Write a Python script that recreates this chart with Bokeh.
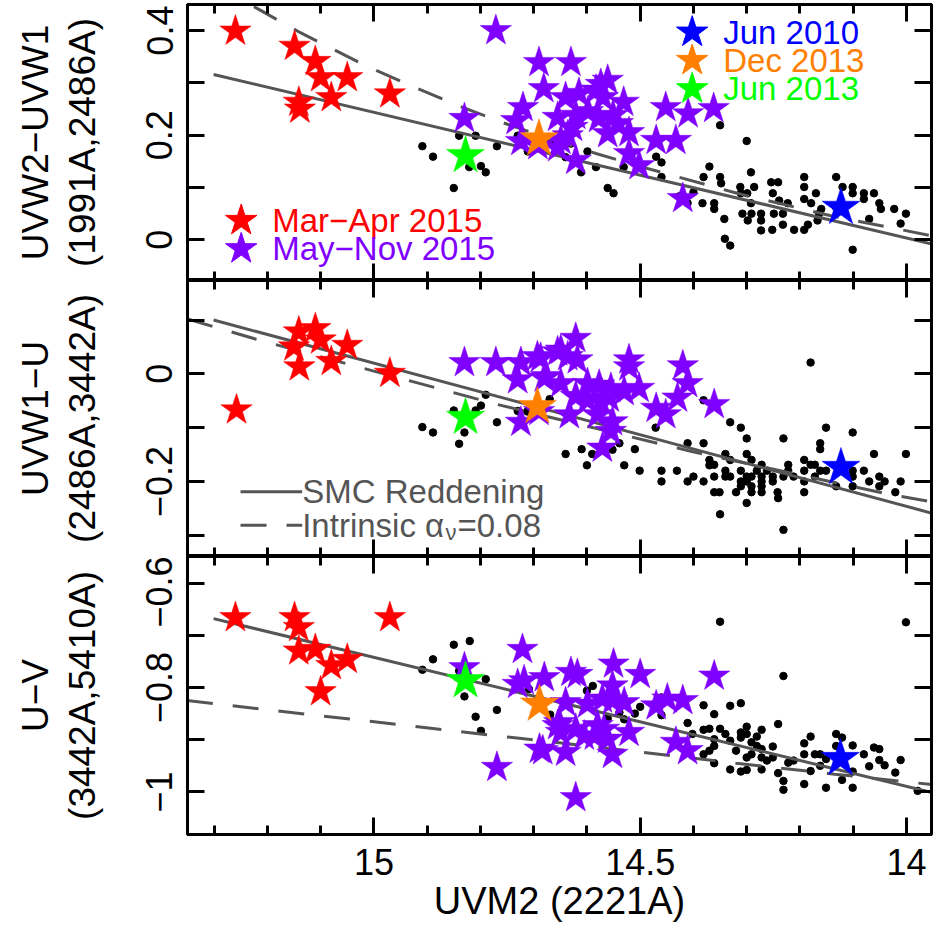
import math
from bokeh.plotting import figure
from bokeh.layouts import column
from bokeh.models import Range1d, LinearAxis, FixedTicker, Label, CustomLabelingPolicy
from bokeh.embed import file_html
from bokeh.resources import INLINE

FONT = "Liberation Sans"

# ---------------- data ----------------
x_major = [15.0, 14.5, 14.0]
x_minor = [15.3, 15.2, 15.1, 14.9, 14.8, 14.7, 14.6, 14.4, 14.3, 14.2, 14.1]
x_labels = {15.0: "15", 14.5: "14.5", 14.0: "14"}

p1_ticks = [0.0, 0.2, 0.4]
p1_minor = [0.1, 0.3]
p1_labels = {0.0: "0", 0.2: "0.2", 0.4: "0.4"}
p2_ticks = [0.0, -0.2]
p2_minor = [0.1, -0.1, -0.3]
p2_labels = {0.0: "0", -0.2: "\u22120.2"}
p3_ticks = [-0.6, -0.8, -1.0]
p3_minor = [-0.7, -0.9]
p3_labels = {-0.6: "\u22120.6", -0.8: "\u22120.8", -1.0: "\u22121"}

# panel 1: UVW2-UVW1
p1_red = [(15.260, 0.399), (15.149, 0.370), (15.110, 0.341), (15.100, 0.310), (15.050, 0.310),
          (15.080, 0.272), (15.141, 0.263), (15.139, 0.250), (14.970, 0.279)]
p1_purple = [(14.771, 0.400), (14.830, 0.232), (14.690, 0.339), (14.681, 0.289), (14.720, 0.253),
             (14.733, 0.228), (14.724, 0.188), (14.692, 0.180), (14.655, 0.234), (14.655, 0.176),
             (14.630, 0.339), (14.561, 0.305), (14.574, 0.297), (14.640, 0.272), (14.615, 0.280),
             (14.583, 0.286), (14.570, 0.272), (14.531, 0.263), (14.621, 0.238), (14.598, 0.245),
             (14.578, 0.232), (14.551, 0.238), (14.561, 0.203), (14.542, 0.222), (14.521, 0.205),
             (14.649, 0.190), (14.636, 0.199), (14.621, 0.152), (14.521, 0.165), (14.502, 0.142),
             (14.470, 0.190), (14.433, 0.190), (14.452, 0.253), (14.410, 0.241), (14.362, 0.251),
             (14.420, 0.079), (14.627, 0.215)]
p1_jun2010 = (14.123, 0.062)
p1_dec2013 = (14.690, 0.193)
p1_jun2013 = (14.828, 0.161)
p1_dots = [(14.909, 0.179), (14.889, 0.159), (14.850, 0.099), (14.840, 0.199), (14.821, 0.139),
           (14.809, 0.199), (14.799, 0.141), (14.790, 0.129), (14.769, 0.179), (14.730, 0.199),
           (14.711, 0.169), (14.668, 0.190), (14.640, 0.158), (14.630, 0.184), (14.611, 0.129),
           (14.599, 0.169), (14.583, 0.139), (14.561, 0.099), (14.550, 0.089), (14.531, 0.139),
           (14.470, 0.159), (14.460, 0.148), (14.460, 0.120), (14.427, 0.083), (14.411, 0.070),
           (14.400, 0.091), (14.381, 0.120), (14.370, 0.140), (14.383, 0.070), (14.361, 0.070),
           (14.350, 0.219), (14.350, 0.120), (14.348, 0.108), (14.361, 0.059), (14.342, 0.040),
           (14.341, 0.002), (14.331, -0.011), (14.312, 0.101), (14.311, 0.089), (14.300, 0.189),
           (14.292, 0.129), (14.299, 0.089), (14.308, 0.050), (14.292, 0.070), (14.286, 0.101),
           (14.298, 0.037), (14.291, 0.050), (14.273, 0.050), (14.273, 0.037), (14.273, 0.018),
           (14.254, 0.110), (14.241, 0.110), (14.251, 0.089), (14.239, 0.075), (14.223, 0.070),
           (14.232, 0.050), (14.249, 0.050), (14.252, 0.019), (14.232, 0.029), (14.211, 0.019),
           (14.192, 0.120), (14.192, 0.101), (14.192, 0.078), (14.179, 0.070), (14.170, 0.089),
           (14.185, 0.029), (14.192, 0.019), (14.160, 0.059), (14.164, 0.050), (14.167, 0.037),
           (14.132, 0.120), (14.132, 0.062), (14.120, 0.101), (14.101, 0.101), (14.101, 0.089),
           (14.080, 0.089), (14.080, 0.078), (14.061, 0.089), (14.051, 0.070), (14.048, 0.059),
           (14.023, 0.059), (14.001, 0.050), (14.011, 0.031), (14.070, 0.040), (14.101, -0.019)]
p1_smc_x = [15.301, 13.952]
p1_smc_y = [0.316, -0.008]
p1_int_x = [15.300, 15.222, 15.138, 15.016, 14.931, 14.843, 14.758, 14.674, 14.583, 14.499, 14.318, 14.142, 13.954]
p1_int_y = [0.490, 0.444, 0.396, 0.333, 0.295, 0.257, 0.224, 0.195, 0.165, 0.140, 0.089, 0.046, 0.008]

# panel 2: UVW1-U
p2_red = [(15.258, -0.067), (15.141, 0.078), (15.110, 0.084), (15.100, 0.063), (15.150, 0.050),
          (15.140, 0.013), (15.080, 0.023), (15.050, 0.053), (14.970, 0.001)]
p2_purple = [(14.830, 0.021), (14.771, 0.021), (14.724, 0.021), (14.693, 0.032), (14.730, -0.011),
             (14.680, -0.008), (14.655, 0.041), (14.724, -0.090), (14.690, -0.070),
             (14.621, 0.066), (14.649, 0.044), (14.636, 0.032), (14.618, 0.026), (14.687, 0.029),
             (14.677, -0.005), (14.649, -0.018), (14.521, 0.026), (14.521, 0.013), (14.420, 0.015),
             (14.411, -0.018), (14.502, -0.027), (14.430, -0.045), (14.470, -0.064), (14.452, -0.076),
             (14.361, -0.057), (14.599, -0.018), (14.577, -0.021), (14.555, -0.027), (14.530, -0.033),
             (14.621, -0.042), (14.599, -0.049), (14.574, -0.052), (14.558, -0.045), (14.633, -0.076),
             (14.580, -0.076), (14.552, -0.089), (14.555, -0.107), (14.571, -0.138)]
p2_jun2010 = (14.123, -0.174)
p2_dec2013 = (14.693, -0.061)
p2_jun2013 = (14.828, -0.081)
p2_dots = [(14.909, -0.099), (14.889, -0.109), (14.850, -0.068), (14.840, -0.130), (14.830, -0.109),
           (14.809, -0.068), (14.799, -0.059), (14.790, -0.039), (14.769, -0.090), (14.730, -0.069),
           (14.712, -0.070), (14.670, -0.047), (14.640, -0.149), (14.610, -0.140), (14.600, -0.170),
           (14.590, -0.149), (14.552, -0.141), (14.539, -0.129), (14.530, -0.170), (14.510, -0.140),
           (14.501, -0.180), (14.471, -0.100), (14.460, -0.180), (14.460, -0.200), (14.431, -0.180),
           (14.411, -0.129), (14.411, -0.200), (14.400, -0.191), (14.381, -0.049), (14.381, -0.129),
           (14.381, -0.200), (14.370, -0.160), (14.370, -0.170), (14.361, -0.169), (14.361, -0.191),
           (14.361, -0.220), (14.351, -0.220), (14.350, -0.261), (14.340, -0.149), (14.340, -0.180),
           (14.340, -0.191), (14.331, -0.090), (14.331, -0.160), (14.331, -0.191), (14.320, -0.220),
           (14.311, -0.100), (14.311, -0.180), (14.311, -0.200), (14.311, -0.209), (14.300, -0.120),
           (14.300, -0.149), (14.300, -0.191), (14.300, -0.200), (14.300, -0.240), (14.291, -0.160),
           (14.291, -0.191), (14.291, -0.209), (14.291, -0.220), (14.281, -0.180), (14.272, -0.169),
           (14.272, -0.191), (14.272, -0.200), (14.272, -0.209), (14.272, -0.220), (14.262, -0.180),
           (14.251, -0.191), (14.251, -0.200), (14.242, -0.220), (14.241, -0.231), (14.231, -0.120),
           (14.231, -0.191), (14.231, -0.290), (14.222, -0.169), (14.222, -0.180), (14.212, -0.191),
           (14.192, -0.160), (14.192, -0.180), (14.192, -0.200), (14.192, -0.220), (14.180, 0.021),
           (14.180, -0.169), (14.172, -0.169), (14.172, -0.191), (14.162, -0.129), (14.162, -0.140),
           (14.162, -0.180), (14.151, -0.100), (14.151, -0.180), (14.132, -0.209), (14.101, -0.109),
           (14.101, -0.180), (14.101, -0.191), (14.101, -0.209), (14.080, -0.180), (14.070, -0.200),
           (14.061, -0.149), (14.051, -0.191), (14.051, -0.209), (14.041, -0.200), (14.021, -0.220),
           (14.011, -0.200), (14.001, -0.149)]
p2_smc_x = [15.301, 13.952]
p2_smc_y = [0.100, -0.259]
p2_int_x = [15.350, 15.213, 14.768, 14.405, 14.042, 13.952]
p2_int_y = [0.102, 0.062, -0.057, -0.144, -0.222, -0.238]

# panel 3: U-V
p3_red = [(15.260, -0.666), (15.149, -0.666), (15.141, -0.685), (14.970, -0.666), (15.141, -0.730),
          (15.110, -0.727), (15.080, -0.758), (15.050, -0.746), (15.100, -0.808)]
p3_purple = [(14.830, -0.762), (14.721, -0.727), (14.730, -0.794), (14.718, -0.787), (14.680, -0.781),
             (14.689, -0.918), (14.769, -0.953), (14.655, -0.873),
             (14.630, -0.771), (14.618, -0.775), (14.550, -0.755), (14.500, -0.775), (14.361, -0.778),
             (14.552, -0.797), (14.640, -0.829), (14.599, -0.832), (14.571, -0.822), (14.552, -0.825),
             (14.530, -0.829), (14.470, -0.835), (14.449, -0.822), (14.420, -0.825), (14.652, -0.867),
             (14.649, -0.886), (14.621, -0.880), (14.605, -0.893), (14.580, -0.873), (14.586, -0.893),
             (14.561, -0.899), (14.521, -0.886), (14.683, -0.921), (14.640, -0.924), (14.552, -0.928),
             (14.433, -0.905), (14.411, -0.921), (14.621, -1.011), (14.568, -0.880)]
p3_jun2010 = (14.124, -0.936)
p3_dec2013 = (14.689, -0.832)
p3_jun2013 = (14.828, -0.787)
p3_dots = [(14.909, -0.766), (14.889, -0.746), (14.850, -0.718), (14.820, -0.711), (14.840, -0.768),
           (14.830, -0.817), (14.809, -0.856), (14.799, -0.883), (14.790, -0.784), (14.769, -0.843),
           (14.709, -0.803), (14.669, -0.852), (14.600, -0.806), (14.589, -0.797), (14.561, -0.859),
           (14.539, -0.848), (14.530, -0.861), (14.510, -0.850), (14.500, -0.837), (14.460, -0.819),
           (14.460, -0.853), (14.411, -0.868), (14.402, -0.889), (14.381, -0.834), (14.381, -0.881),
           (14.381, -0.928), (14.370, -0.879), (14.370, -0.921), (14.361, -0.851), (14.361, -0.899),
           (14.361, -0.912), (14.361, -0.945), (14.350, -0.674), (14.350, -0.879), (14.340, -0.889),
           (14.331, -0.835), (14.331, -0.902), (14.331, -0.957), (14.320, -0.921), (14.311, -0.830),
           (14.311, -0.886), (14.311, -0.896), (14.311, -0.961), (14.300, -0.875), (14.300, -0.889),
           (14.300, -0.934), (14.300, -0.958), (14.291, -0.905), (14.291, -0.928), (14.281, -0.894),
           (14.281, -0.912), (14.272, -0.881), (14.272, -0.918), (14.272, -0.934), (14.272, -0.957),
           (14.262, -0.940), (14.251, -0.913), (14.251, -0.934), (14.241, -0.870), (14.241, -0.964),
           (14.231, -0.778), (14.231, -0.979), (14.231, -0.996), (14.222, -0.944), (14.212, -0.940),
           (14.192, -0.907), (14.192, -0.928), (14.192, -0.985), (14.180, -0.894), (14.180, -0.960),
           (14.172, -0.928), (14.162, -0.928), (14.162, -0.950), (14.151, -0.937), (14.151, -0.992),
           (14.132, -0.889), (14.132, -0.912), (14.121, -0.896), (14.121, -0.977), (14.101, -0.911),
           (14.101, -0.961), (14.101, -0.992), (14.080, -0.928), (14.070, -0.951), (14.061, -0.915),
           (14.051, -0.918), (14.051, -0.939), (14.041, -0.949), (14.021, -0.963), (14.011, -0.939),
           (14.001, -0.675), (13.979, -0.998)]
p3_smc_x = [15.301, 13.952]
p3_smc_y = [-0.668, -1.001]
p3_int_x = [15.351, 14.687, 14.505, 14.320, 14.135, 13.952]
p3_int_y = [-0.825, -0.902, -0.923, -0.945, -0.966, -0.986]

# ---------------- style ----------------
RED, PURPLE, ORANGE, GREEN, BLUE = "#FF0000", "#7F00FF", "#FF7F00", "#00FF00", "#0000FF"
LINE_GRAY = "#555555"
X0, X1 = 15.350, 13.953
W = 933
LEFT, RIGHT = 187, 2
FW = W - LEFT - RIGHT
STAR = 33
BIGSTAR = 40
DOT = 7.5


def xs(pts):
    return [p[0] for p in pts]


def ys(pts):
    return [p[1] for p in pts]


def hide_labels(ax):
    ax.major_label_text_font_size = "0px"
    ax.major_label_standoff = 0
    ax.major_label_policy = CustomLabelingPolicy(code="return []")


def style_axis(ax, tin_major, tin_minor, show_labels):
    ax.axis_line_width = 3
    ax.axis_line_color = "black"
    ax.major_tick_in = tin_major
    ax.major_tick_out = 0
    ax.minor_tick_in = tin_minor
    ax.minor_tick_out = 0
    ax.major_tick_line_width = 3
    ax.minor_tick_line_width = 3
    ax.major_tick_line_color = "black"
    ax.minor_tick_line_color = "black"
    ax.major_label_text_font = FONT
    ax.major_label_text_color = "black"
    if show_labels:
        ax.major_label_text_font_size = "36px"
    else:
        hide_labels(ax)


def title_axis(ticker, text, standoff):
    ax = LinearAxis(ticker=ticker)
    ax.axis_line_color = None
    ax.major_tick_line_color = None
    ax.minor_tick_line_color = None
    ax.major_tick_in = 0
    ax.major_tick_out = 0
    ax.minor_tick_in = 0
    ax.minor_tick_out = 0
    hide_labels(ax)
    ax.axis_label = text
    ax.axis_label_text_font = FONT
    ax.axis_label_text_font_size = "37px"
    ax.axis_label_text_font_style = "normal"
    ax.axis_label_text_color = "black"
    ax.axis_label_standoff = standoff
    return ax


def make_panel(yr, height, top, bottom, yticks, yminor, ylabels, title_lines, xlabels):
    fh = height - top - bottom
    p = figure(width=W, height=height, x_range=Range1d(X0, X1), y_range=Range1d(*yr),
               output_backend="svg", toolbar_location=None,
               x_axis_location=None, y_axis_location=None,
               min_border_left=LEFT, min_border_right=RIGHT,
               min_border_top=top, min_border_bottom=bottom)
    p.grid.visible = False
    p.outline_line_color = "black"
    p.outline_line_width = 3
    p.background_fill_color = "white"
    p.border_fill_color = "white"

    yt = FixedTicker(ticks=yticks, minor_ticks=yminor)
    xt = FixedTicker(ticks=x_major, minor_ticks=x_minor)

    # left axis with ticks and tick labels only
    left = LinearAxis(ticker=yt)
    style_axis(left, 17, 17, True)
    left.major_label_overrides = ylabels
    left.major_label_orientation = "parallel"
    left.major_label_standoff = 15
    p.add_layout(left, "left")
    # two title lines as separate, tick-less axes further out
    p.add_layout(title_axis(yt, title_lines[1], 41), "left")
    p.add_layout(title_axis(yt, title_lines[0], 3), "left")

    right = LinearAxis(ticker=yt)
    style_axis(right, 17, 17, False)
    p.add_layout(right, "right")

    above = LinearAxis(ticker=xt)
    style_axis(above, 17, 9, False)
    p.add_layout(above, "above")

    below = LinearAxis(ticker=xt)
    style_axis(below, 17, 9, xlabels)
    if xlabels:
        below.major_label_overrides = x_labels
        below.major_label_standoff = 14
        below.axis_label = "UVM2 (2221A)"
        below.axis_label_text_font = FONT
        below.axis_label_text_font_size = "38px"
        below.axis_label_text_font_style = "normal"
        below.axis_label_text_color = "black"
        below.axis_label_standoff = 2
    p.add_layout(below, "below")
    return p, fh


def fx(sx):
    return X0 + sx / FW * (X1 - X0)


def fy(p, fh, sy):
    return p.y_range.start + sy / fh * (p.y_range.end - p.y_range.start)


def draw(p, dots, smc_x, smc_y, int_x, int_y, red, purple, j10, d13, j13):
    p.scatter(xs(dots), ys(dots), marker="circle", size=DOT, fill_color="black", line_color="black")
    p.line(smc_x, smc_y, line_color=LINE_GRAY, line_width=3)
    p.line(int_x, int_y, line_color=LINE_GRAY, line_width=3, line_dash="26 20")
    p.scatter(xs(red), ys(red), marker="star", size=STAR, fill_color=RED, line_color=RED, line_width=0.5)
    p.scatter(xs(purple), ys(purple), marker="star", size=STAR, fill_color=PURPLE, line_color=PURPLE, line_width=0.5)
    for pt, c in [(j10, BLUE), (d13, ORANGE), (j13, GREEN)]:
        p.scatter([pt[0]], [pt[1]], marker="star", size=BIGSTAR, fill_color=c, line_color=c, line_width=0.5)


def legend_text(p, sx, sy, txt, color, size="33px"):
    p.add_layout(Label(x=sx, y=sy, x_units="screen", y_units="screen", text=txt,
                       text_align="left", text_baseline="middle",
                       text_font=FONT, text_font_size=size, text_color=color))


# ---------------- panel 1 ----------------
p1, fh1 = make_panel((-0.0778, 0.4499), 280, 4, 0, p1_ticks, p1_minor, p1_labels,
                     ["UVW2\u2212UVW1", "(1991A,2486A)"], False)
draw(p1, p1_dots, p1_smc_x, p1_smc_y, p1_int_x, p1_int_y, p1_red, p1_purple,
     p1_jun2010, p1_dec2013, p1_jun2013)
for sy, txt, c in [(248.3, "Jun 2010", BLUE), (220.0, "Dec 2013", ORANGE), (191.7, "Jun 2013", GREEN)]:
    p1.scatter([fx(504.7)], [fy(p1, fh1, sy)], marker="star", size=STAR, fill_color=c, line_color=c)
    legend_text(p1, 535.7, sy, txt, c)
for sy, txt, c in [(60.0, "Mar\u2212Apr 2015", RED), (31.7, "May\u2212Nov 2015", PURPLE)]:
    p1.scatter([fx(53.7)], [fy(p1, fh1, sy)], marker="star", size=STAR, fill_color=c, line_color=c)
    legend_text(p1, 84.7, sy, txt, c)

# ---------------- panel 2 ----------------
p2, fh2 = make_panel((-0.3395, 0.1735), 276, 0, 0, p2_ticks, p2_minor, p2_labels,
                     ["UVW1\u2212U", "(2486A,3442A)"], False)
draw(p2, p2_dots, p2_smc_x, p2_smc_y, p2_int_x, p2_int_y, p2_red, p2_purple,
     p2_jun2010, p2_dec2013, p2_jun2013)
p2.line([fx(53), fx(114.7)], [fy(p2, fh2, 64.7)] * 2, line_color=LINE_GRAY, line_width=3)
p2.line([fx(53), fx(114.7)], [fy(p2, fh2, 31.3)] * 2, line_color=LINE_GRAY, line_width=3, line_dash="26 20")
legend_text(p2, 114.7, 64.7, "SMC Reddening", LINE_GRAY)
legend_text(p2, 114.7, 31.3, "Intrinsic \u03b1", LINE_GRAY)
legend_text(p2, 258.0, 24.0, "\u03bd", LINE_GRAY, "22px")
legend_text(p2, 270.0, 31.3, "=0.08", LINE_GRAY)

# ---------------- panel 3 ----------------
p3, fh3 = make_panel((-1.0816, -0.549), 376, 0, 98, p3_ticks, p3_minor, p3_labels,
                     ["U\u2212V", "(3442A,5410A)"], True)
draw(p3, p3_dots, p3_smc_x, p3_smc_y, p3_int_x, p3_int_y, p3_red, p3_purple,
     p3_jun2010, p3_dec2013, p3_jun2013)

layout = column(p1, p2, p3, spacing=0)
open("out.html", "w").write(file_html(layout, INLINE))
